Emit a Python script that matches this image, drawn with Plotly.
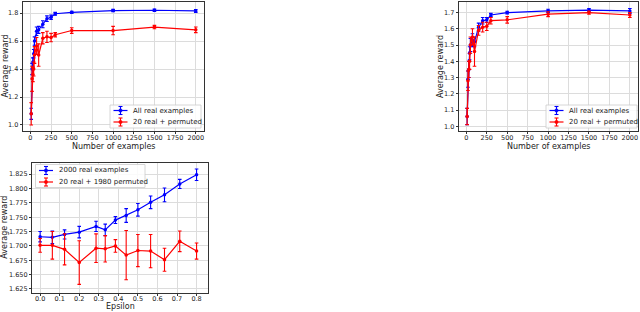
import plotly.graph_objects as go

# ---- data ----
n_examples = [10, 20, 30, 40, 50, 75, 100, 150, 200, 250, 300, 500, 1000, 1500, 2000]

tl_real = [1.08, 1.40, 1.45, 1.51, 1.60, 1.67, 1.68, 1.72, 1.76, 1.77, 1.795, 1.805, 1.818, 1.82, 1.815]
tl_real_err = [0.04, 0.04, 0.03, 0.03, 0.03, 0.03, 0.025, 0.025, 0.02, 0.015, 0.01, 0.008, 0.008, 0.008, 0.01]
tl_perm = [1.08, 1.33, 1.36, 1.40, 1.50, 1.565, 1.50, 1.62, 1.63, 1.625, 1.645, 1.675, 1.675, 1.70, 1.68]
tl_perm_err = [0.08, 0.09, 0.05, 0.05, 0.06, 0.06, 0.08, 0.04, 0.04, 0.03, 0.015, 0.02, 0.03, 0.012, 0.02]

tr_real = [1.06, 1.29, 1.35, 1.45, 1.50, 1.53, 1.52, 1.61, 1.65, 1.655, 1.685, 1.70, 1.71, 1.715, 1.71]
tr_real_err = [0.05, 0.05, 0.05, 0.04, 0.04, 0.04, 0.03, 0.025, 0.02, 0.015, 0.01, 0.008, 0.01, 0.01, 0.015]
tr_perm = [1.06, 1.28, 1.35, 1.40, 1.50, 1.55, 1.46, 1.59, 1.61, 1.615, 1.65, 1.655, 1.69, 1.70, 1.685]
tr_perm_err = [0.05, 0.06, 0.05, 0.05, 0.05, 0.05, 0.09, 0.03, 0.03, 0.025, 0.02, 0.02, 0.015, 0.01, 0.015]

epsilon = [0.0, 0.0625, 0.125, 0.2, 0.286, 0.333, 0.385, 0.44, 0.5, 0.565, 0.636, 0.714, 0.8]
eps_real = [1.716, 1.715, 1.720, 1.724, 1.734, 1.728, 1.745, 1.753, 1.763, 1.776, 1.789, 1.808, 1.824]
eps_real_err = [0.009, 0.011, 0.008, 0.010, 0.009, 0.010, 0.006, 0.012, 0.011, 0.011, 0.012, 0.008, 0.010]
eps_perm = [1.701, 1.701, 1.694, 1.671, 1.696, 1.695, 1.700, 1.684, 1.692, 1.691, 1.676, 1.708, 1.691]
eps_perm_err = [0.012, 0.024, 0.027, 0.038, 0.025, 0.023, 0.011, 0.043, 0.028, 0.029, 0.020, 0.018, 0.014]

x_ticks = [0, 250, 500, 750, 1000, 1250, 1500, 1750, 2000]
tl_yticks = [1.0, 1.2, 1.4, 1.6, 1.8]
tr_yticks = [1.0, 1.1, 1.2, 1.3, 1.4, 1.5, 1.6, 1.7]
eps_xticks = [0.0, 0.1, 0.2, 0.3, 0.4, 0.5, 0.6, 0.7, 0.8]
eps_yticks = [1.625, 1.650, 1.675, 1.700, 1.725, 1.750, 1.775, 1.800, 1.825]

names_tl = ["All real examples", "20 real + permuted"]
names_eps = ["2000 real examples", "20 real + 1980 permuted"]
x_title_n = "Number of examples"
x_title_eps = "Epsilon"
y_title = "Average reward"

BLUE = "#0000ff"
RED = "#ff0000"
FONT = "DejaVu Sans"
W, H = 640, 312

fig = go.Figure()


def add(x, y, err, color, name, xa, ya):
    fig.add_trace(go.Scatter(
        x=x, y=y, name=name, mode="lines+markers",
        line=dict(color=color, width=1.2),
        marker=dict(color=color, size=3.5),
        error_y=dict(type="data", array=err, visible=True, color=color,
                     thickness=1.1, width=1.8),
        xaxis=xa, yaxis=ya, showlegend=False,
    ))


add(n_examples, tl_real, tl_real_err, BLUE, names_tl[0], "x", "y")
add(n_examples, tl_perm, tl_perm_err, RED, names_tl[1], "x", "y")
add(n_examples, tr_real, tr_real_err, BLUE, names_tl[0], "x2", "y2")
add(n_examples, tr_perm, tr_perm_err, RED, names_tl[1], "x2", "y2")
add(epsilon, eps_real, eps_real_err, BLUE, names_eps[0], "x3", "y3")
add(epsilon, eps_perm, eps_perm_err, RED, names_eps[1], "x3", "y3")


def px(a, b):
    return [a / W, b / W]


def py(top, bottom):
    return [1 - bottom / H, 1 - top / H]


shapes, annotations = [], []


def P(x, y):
    return x / W, 1 - y / H


def text_at(text, x, y, size, angle=0):
    a, b = P(x, y)
    annotations.append(dict(text=text, xref="paper", yref="paper", x=a, y=b,
                            xanchor="center", yanchor="middle", showarrow=False,
                            textangle=angle,
                            font=dict(family=FONT, size=size, color="#222222")))


# axis titles
TS = 8
text_at(x_title_n, 113.5, 146.5, TS)
text_at(y_title, 5, 66.5, TS, -90)
text_at(x_title_n, 548.5, 146.5, TS)
text_at(y_title, 440.5, 66.5, TS, -90)
text_at(x_title_eps, 120.3, 306.5, TS)
text_at(y_title, 5, 227.7, TS, -90)


# ---- matplotlib-like legend boxes drawn in paper space ----
def legend_box(x0, y0, x1, y1, rows):
    a, b = P(x0, y0)
    c, d = P(x1, y1)
    shapes.append(dict(type="rect", xref="paper", yref="paper", x0=a, y0=d, x1=c, y1=b,
                       line=dict(color="#cccccc", width=0.8), fillcolor="rgba(255,255,255,0.85)",
                       layer="above"))
    for (label, color, ry) in rows:
        sx0, sx1 = x0 + 3.5, x0 + 17.5
        mx = (sx0 + sx1) / 2
        p0 = P(sx0, ry)
        p1 = P(sx1, ry)
        shapes.append(dict(type="line", xref="paper", yref="paper", x0=p0[0], y0=p0[1],
                           x1=p1[0], y1=p1[1], line=dict(color=color, width=1.2), layer="above"))
        e0 = P(mx, ry - 4)
        e1 = P(mx, ry + 4)
        shapes.append(dict(type="line", xref="paper", yref="paper", x0=e0[0], y0=e0[1],
                           x1=e1[0], y1=e1[1], line=dict(color=color, width=1.1), layer="above"))
        for cy in (ry - 4, ry + 4):
            c0 = P(mx - 2, cy)
            c1 = P(mx + 2, cy)
            shapes.append(dict(type="line", xref="paper", yref="paper", x0=c0[0], y0=c0[1],
                               x1=c1[0], y1=c1[1], line=dict(color=color, width=1.1), layer="above"))
        m0 = P(mx - 1.7, ry - 1.7)
        m1 = P(mx + 1.7, ry + 1.7)
        shapes.append(dict(type="circle", xref="paper", yref="paper", x0=m0[0], y0=m1[1],
                           x1=m1[0], y1=m0[1], line=dict(color=color, width=0.5),
                           fillcolor=color, layer="above"))
        t = P(sx1 + 3.5, ry)
        annotations.append(dict(text=label, xref="paper", yref="paper", x=t[0], y=t[1],
                                xanchor="left", yanchor="middle", showarrow=False,
                                font=dict(family=FONT, size=7, color="#222222")))


legend_box(110, 105, 201, 128, [(names_tl[0], BLUE, 110.5), (names_tl[1], RED, 122)])
legend_box(546, 105, 637, 128, [(names_tl[0], BLUE, 110.5), (names_tl[1], RED, 122)])
legend_box(35.5, 164.5, 145, 187.5, [(names_eps[0], BLUE, 170.5), (names_eps[1], RED, 182)])

axis_common = dict(
    showline=True, mirror=True, linecolor="#333333", linewidth=0.8,
    showgrid=True, gridcolor="#dcdcdc", gridwidth=0.8,
    ticks="outside", ticklen=2.5, tickcolor="#333333", tickwidth=0.8,
    tickfont=dict(family=FONT, size=6.5, color="#222222"),
    zeroline=False, tickangle=0, automargin=False, ticklabeloverflow="allow",
)

fig.update_layout(
    width=W, height=H,
    margin=dict(l=0, r=0, t=0, b=0, autoexpand=False),
    paper_bgcolor="white", plot_bgcolor="white",
    showlegend=False,
    shapes=shapes, annotations=annotations,
    xaxis=dict(domain=px(23, 204), range=[-89.5, 2099.5], tickvals=x_ticks,
               anchor="y", ticklabelstandoff=-2, **axis_common),
    yaxis=dict(domain=py(2, 131), range=[0.957, 1.879], tickvals=tl_yticks, tickformat=".1f",
               anchor="x", **axis_common),
    xaxis2=dict(domain=px(459, 638), range=[-89.5, 2099.5], tickvals=x_ticks,
                anchor="y2", ticklabelstandoff=-2, **axis_common),
    yaxis2=dict(domain=py(2, 131), range=[0.971, 1.765], tickvals=tr_yticks, tickformat=".1f",
                anchor="x2", **axis_common),
    xaxis3=dict(domain=px(32.3, 208.3), range=[-0.04, 0.86], tickvals=eps_xticks, tickformat=".1f",
                anchor="y3", ticklabelstandoff=-3, **axis_common),
    yaxis3=dict(domain=py(162.7, 292.7), range=[1.6185, 1.845], tickvals=eps_yticks, tickformat=".3f",
                anchor="x3", **axis_common),
)

fig.write_html("out.html",
               config={"displayModeBar": False},
               post_script="document.body.style.margin='0';document.body.style.padding='0';")
